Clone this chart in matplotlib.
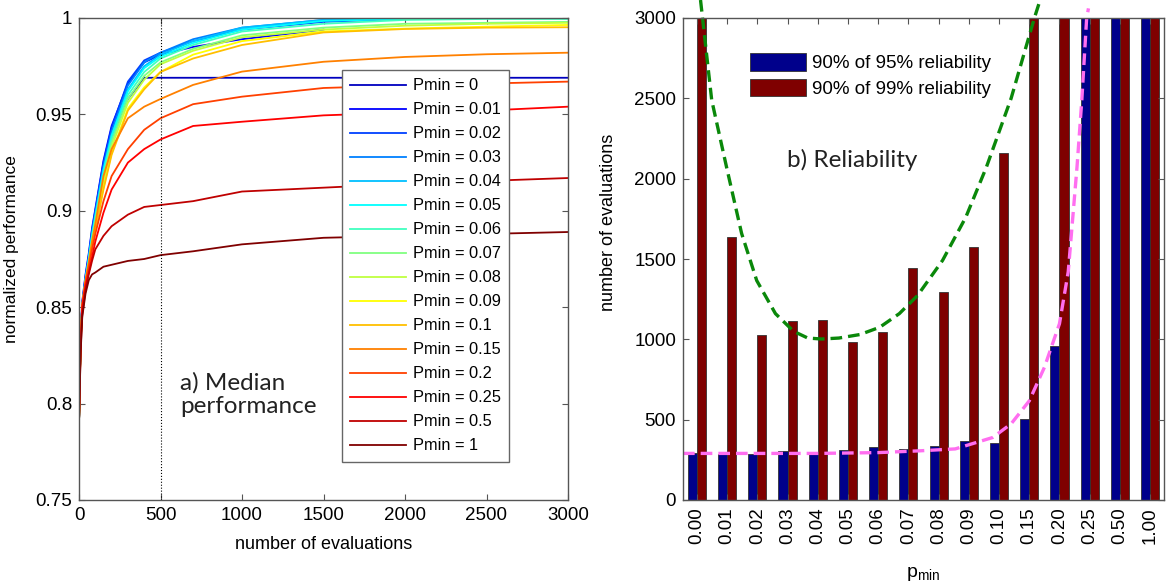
import numpy as np
import matplotlib
matplotlib.use('Agg')
from matplotlib import pyplot as plt

plt.rcParams['font.family'] = ['Liberation Sans', 'DejaVu Sans']
plt.rcParams['mathtext.fontset'] = 'custom'
plt.rcParams['mathtext.rm'] = 'Liberation Sans'
plt.rcParams['mathtext.it'] = 'Liberation Sans'

# ---- panel a) median performance vs evaluations ----
evals = [0, 10, 20, 40, 60, 80, 100, 150, 200, 300, 400, 500, 700, 1000, 1500, 2000, 2500, 3000]
pmin_labels = ['0', '0.01', '0.02', '0.03', '0.04', '0.05', '0.06', '0.07',
               '0.08', '0.09', '0.1', '0.15', '0.2', '0.25', '0.5', '1']
perf_p000 = [0.790, 0.834, 0.851, 0.864, 0.874, 0.886, 0.896, 0.920, 0.938, 0.958, 0.969, 0.969, 0.969, 0.969, 0.969, 0.969, 0.969, 0.969]
perf_p001 = [0.790, 0.836, 0.853, 0.867, 0.878, 0.891, 0.901, 0.926, 0.944, 0.966, 0.977, 0.981, 0.985, 0.989, 0.994, np.nan, np.nan, np.nan]
perf_p002 = [0.790, 0.835, 0.852, 0.866, 0.877, 0.890, 0.900, 0.925, 0.943, 0.967, 0.978, 0.982, 0.988, 0.994, 0.998, 0.9995, 1.0, 1.0]
perf_p003 = [0.790, 0.834, 0.851, 0.865, 0.876, 0.889, 0.899, 0.923, 0.941, 0.965, 0.977, 0.982, 0.989, 0.995, 0.999, 1.0, 1.0, 1.0]
perf_p004 = [0.790, 0.834, 0.851, 0.865, 0.875, 0.887, 0.897, 0.921, 0.939, 0.963, 0.975, 0.981, 0.988, 0.995, 0.999, 1.0, 1.0, 1.0]
perf_p005 = [0.790, 0.834, 0.851, 0.864, 0.875, 0.887, 0.897, 0.921, 0.939, 0.962, 0.974, 0.980, 0.987, 0.994, 0.9985, 0.9995, 1.0, 1.0]
perf_p006 = [0.790, 0.833, 0.850, 0.864, 0.874, 0.886, 0.896, 0.919, 0.937, 0.960, 0.972, 0.979, 0.986, 0.993, 0.997, 0.999, 0.9995, 0.9995]
perf_p007 = [0.790, 0.833, 0.850, 0.863, 0.873, 0.885, 0.894, 0.917, 0.935, 0.958, 0.970, 0.977, 0.984, 0.991, 0.995, 0.997, 0.9975, 0.998]
perf_p008 = [0.790, 0.833, 0.850, 0.863, 0.873, 0.884, 0.893, 0.915, 0.933, 0.956, 0.968, 0.976, 0.983, 0.990, 0.994, 0.996, 0.997, 0.9975]
perf_p009 = [0.790, 0.832, 0.849, 0.862, 0.872, 0.882, 0.891, 0.912, 0.930, 0.953, 0.964, 0.972, 0.981, 0.988, 0.993, 0.9945, 0.9955, 0.9964]
perf_p010 = [0.790, 0.832, 0.849, 0.862, 0.872, 0.882, 0.890, 0.911, 0.929, 0.952, 0.963, 0.972, 0.979, 0.986, 0.9925, 0.9943, 0.995, 0.9952]
perf_p015 = [0.790, 0.833, 0.852, 0.864, 0.873, 0.884, 0.893, 0.918, 0.932, 0.948, 0.954, 0.958, 0.9653, 0.9722, 0.9773, 0.9798, 0.9812, 0.982]
perf_p020 = [0.790, 0.832, 0.851, 0.863, 0.871, 0.880, 0.888, 0.905, 0.918, 0.932, 0.942, 0.948, 0.9553, 0.9592, 0.9637, 0.965, 0.966, 0.967]
perf_p025 = [0.790, 0.831, 0.850, 0.861, 0.868, 0.876, 0.884, 0.899, 0.911, 0.925, 0.932, 0.937, 0.944, 0.9462, 0.9495, 0.951, 0.952, 0.954]
perf_p050 = [0.790, 0.828, 0.846, 0.859, 0.867, 0.874, 0.880, 0.887, 0.892, 0.898, 0.902, 0.903, 0.905, 0.910, 0.912, 0.914, 0.9155, 0.917]
perf_p100 = [0.790, 0.826, 0.845, 0.857, 0.864, 0.867, 0.868, 0.871, 0.872, 0.874, 0.875, 0.877, 0.879, 0.8826, 0.886, 0.887, 0.888, 0.889]
perf_all = [perf_p000, perf_p001, perf_p002, perf_p003, perf_p004, perf_p005, perf_p006, perf_p007,
            perf_p008, perf_p009, perf_p010, perf_p015, perf_p020, perf_p025, perf_p050, perf_p100]

# MATLAB jet(16)
jet16 = [(0, 0, 0.75), (0, 0, 1), (0, 0.25, 1), (0, 0.5, 1), (0, 0.75, 1), (0, 1, 1),
         (0.25, 1, 0.75), (0.5, 1, 0.5), (0.75, 1, 0.25), (1, 1, 0), (1, 0.75, 0),
         (1, 0.5, 0), (1, 0.25, 0), (1, 0, 0), (0.75, 0, 0), (0.5, 0, 0)]

# ---- panel b) reliability bars ----
pmin_cats = ['0.00', '0.01', '0.02', '0.03', '0.04', '0.05', '0.06', '0.07',
             '0.08', '0.09', '0.10', '0.15', '0.20', '0.25', '0.50', '1.00']
evals_95 = [295, 285, 285, 304, 297, 312, 330, 320, 333, 368, 354, 505, 956, 3000, 3000, 3000]
evals_99 = [3000, 1640, 1029, 1112, 1118, 985, 1048, 1443, 1297, 1574, 2160, 3000, 3000, 3000, 3000, 3000]

# hand-drawn trend lines (category index, evaluations)
trend99_x = [0.12, 0.49, 0.98, 1.48, 1.98, 2.6, 3.2, 3.67, 4.13, 4.7, 5.4, 6.05, 6.7, 7.3, 8.13, 8.9, 9.58, 10.4, 11.17, 11.36]
trend99_y = [3112, 2489, 2073, 1659, 1366, 1160, 1050, 1008, 1002, 1008, 1030, 1075, 1160, 1272, 1491, 1760, 2071, 2500, 3000, 3112]
trend95_x = [-0.46, 2, 4, 6, 7.37, 8.55, 9.79, 10.4, 11.0, 11.5, 12.0, 12.29, 12.58, 12.74, 12.9, 12.96]
trend95_y = [290, 290, 290, 295, 306, 318, 389, 474, 617, 825, 1097, 1420, 2071, 2489, 3000, 3060]

fig = plt.figure(figsize=(11.68, 5.88), dpi=100)
ax1 = fig.add_axes([79 / 1168, 88 / 588, 489 / 1168, 482 / 588])
ax2 = fig.add_axes([683 / 1168, 88 / 588, 481 / 1168, 482 / 588])

spine_col = '#555555'
for ax in (ax1, ax2):
    for s in ax.spines.values():
        s.set_color(spine_col)
        s.set_linewidth(1.0)
    ax.tick_params(direction='in', length=4, width=0.8, color=spine_col,
                   top=True, right=True, labelsize=13.5, pad=5)

for lab, ys, col in zip(pmin_labels, perf_all, jet16):
    ax1.plot(evals, ys, color=col, lw=1.3, label='Pmin = ' + lab)
ax1.axvline(500, color='k', lw=0.8, ls=':')
ax1.set_xlim(0, 3000)
ax1.set_ylim(0.75, 1.0)
ax1.set_xticks(np.arange(0, 3001, 500))
ax1.set_yticks([0.75, 0.8, 0.85, 0.9, 0.95, 1.0])
ax1.set_yticklabels(['0.75', '0.8', '0.85', '0.9', '0.95', '1'])
ax1.set_xlabel('number of evaluations', fontsize=13)
ax1.set_ylabel('normalized performance', fontsize=12.5)
ax1.xaxis.set_label_coords(0.5, -0.075)
ax1.yaxis.set_label_coords(-0.122, 0.52)
leg1 = ax1.legend(loc='upper left', bbox_to_anchor=(0.538, 0.892), fontsize=11.8,
                  handlelength=3.4, handletextpad=0.42, labelspacing=0.55,
                  borderpad=0.5, borderaxespad=0, fancybox=False, framealpha=1)
leg1.get_frame().set_edgecolor('#666666')
leg1.get_frame().set_linewidth(1.0)
ax1.text(620, 0.8045, 'a) Median\nperformance', fontsize=17.5, family=['Lato', 'DejaVu Sans'],
         color='#222222', va='center', ha='left', linespacing=1.15)

idx = np.arange(len(pmin_cats))
bw = 0.3
ax2.bar(idx - bw / 2, evals_95, bw, color='#00008b', edgecolor='#333333', lw=0.6,
        label='90% of 95% reliability')
ax2.bar(idx + bw / 2, evals_99, bw, color='#7f0000', edgecolor='#333333', lw=0.6,
        label='90% of 99% reliability')
ax2.plot(trend99_x, trend99_y, color='#0a880a', lw=2.4, ls=(0, (3.5, 1.8)), clip_on=False)
ax2.plot(trend95_x, trend95_y, color='#ff6ef0', lw=2.4, ls=(0, (3.5, 1.8)), clip_on=False)
ax2.set_xlim(-0.46, 15.46)
ax2.set_ylim(0, 3000)
ax2.set_xticks(idx)
ax2.set_xticklabels(pmin_cats, rotation=90)
ax2.set_yticks(np.arange(0, 3001, 500))
ax2.set_xlabel(r'p$_{\mathrm{min}}$', fontsize=14)
ax2.set_ylabel('number of evaluations', fontsize=13)
ax2.xaxis.set_label_coords(0.5, -0.135)
ax2.yaxis.set_label_coords(-0.137, 0.575)
ax2.legend(loc='upper left', bbox_to_anchor=(0.139, 0.927), fontsize=13.5,
           handlelength=3.0, handleheight=1.05, handletextpad=0.32, labelspacing=0.36,
           borderpad=0, borderaxespad=0, frameon=False)
ax2.text(0.351, 0.705, 'b) Reliability', transform=ax2.transAxes, fontsize=17.5,
         family=['Lato', 'DejaVu Sans'], color='#222222', va='center', ha='center')

fig.savefig('out.png', dpi=100)
